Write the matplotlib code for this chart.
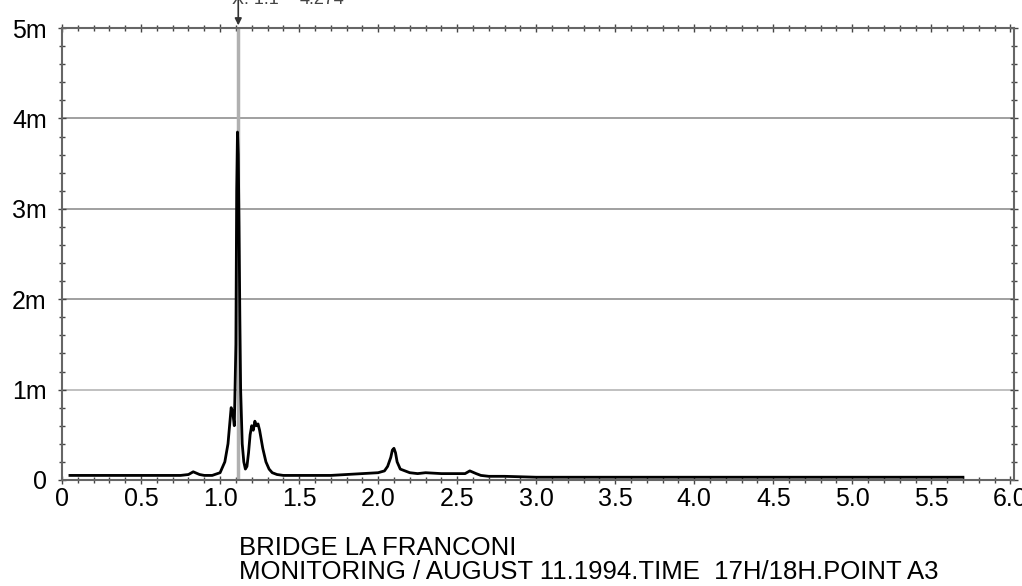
import numpy as np
import matplotlib.pyplot as plt
from matplotlib.ticker import MultipleLocator

plt.rcParams['font.family'] = ['Liberation Sans', 'DejaVu Sans']

# spectrum (amplitude in milli-units)
freq = [0.05, 0.2, 0.4, 0.6, 0.75, 0.8, 0.83, 0.87, 0.9, 0.95, 1.0, 1.03, 1.05,
        1.06, 1.07, 1.08, 1.09, 1.10, 1.105, 1.11, 1.115, 1.12, 1.125, 1.13,
        1.14, 1.15, 1.16, 1.17, 1.18, 1.19, 1.20, 1.21, 1.22, 1.23, 1.24, 1.25,
        1.26, 1.27, 1.29, 1.31, 1.33, 1.36, 1.4, 1.5, 1.6, 1.7, 1.8, 1.9, 2.0,
        2.04, 2.06, 2.08, 2.09, 2.10, 2.11, 2.12, 2.14, 2.17, 2.2, 2.25, 2.3,
        2.4, 2.5, 2.55, 2.58, 2.62, 2.65, 2.7, 2.8, 3.0, 3.5, 4.0, 4.5, 5.0,
        5.5, 5.7]
amp = [0.05, 0.05, 0.05, 0.05, 0.05, 0.06, 0.09, 0.06, 0.05, 0.05, 0.08, 0.2,
       0.4, 0.6, 0.8, 0.75, 0.6, 1.5, 3.2, 3.85, 3.6, 2.8, 1.8, 1.0, 0.4, 0.2,
       0.12, 0.15, 0.3, 0.5, 0.6, 0.55, 0.65, 0.6, 0.62, 0.55, 0.45, 0.35,
       0.2, 0.12, 0.08, 0.06, 0.05, 0.05, 0.05, 0.05, 0.06, 0.07, 0.08, 0.1,
       0.15, 0.25, 0.33, 0.35, 0.3, 0.2, 0.12, 0.1, 0.08, 0.07, 0.08, 0.07,
       0.07, 0.07, 0.1, 0.07, 0.05, 0.04, 0.04, 0.03, 0.03, 0.03, 0.03, 0.03,
       0.03, 0.03]

cursor_x = 1.115
y_ticks = [0, 1, 2, 3, 4, 5]
y_labels = ['0', '1m', '2m', '3m', '4m', '5m']
x_ticks = [0, 0.5, 1.0, 1.5, 2.0, 2.5, 3.0, 3.5, 4.0, 4.5, 5.0, 5.5, 6.0]

fig = plt.figure(figsize=(10.22, 5.86), dpi=100)
ax = fig.add_axes([0.0607, 0.181, 0.931, 0.771])

for yv, c in zip([1, 2, 3, 4], ['#bbbbbb', '#999999', '#999999', '#999999']):
    ax.axhline(yv, color=c, lw=1.3, zorder=1)

ax.axvline(cursor_x, color='#b0b0b0', lw=2.5, zorder=2)
ax.plot(freq, amp, color='black', lw=2, zorder=3)

ax.set_xlim(0, 6.02)
ax.set_ylim(0, 5)
ax.set_xticks(x_ticks)
ax.set_xticklabels(['0'] + ['%.1f' % v for v in x_ticks[1:]])
ax.set_yticks(y_ticks)
ax.set_yticklabels(y_labels)
ax.xaxis.set_minor_locator(MultipleLocator(0.1))
ax.yaxis.set_minor_locator(MultipleLocator(0.2))
ax.tick_params(which='both', direction='inout', top=True, right=True,
               labelsize=18, color='#444444')
ax.tick_params(which='major', length=6, width=1)
ax.tick_params(which='minor', length=4, width=1)
ax.tick_params(axis='y', pad=8)
ax.tick_params(axis='x', pad=2)
for s in ax.spines.values():
    s.set_color('#666666')
    s.set_linewidth(1.5)

# cursor marker above the plot
ax.annotate('', xy=(cursor_x, 5.0), xytext=(cursor_x, 5.35),
            arrowprops=dict(arrowstyle='-|>', color='#333333', lw=1.2),
            annotation_clip=False)
fig.text(0.227, 1.0, 'X: 1.1', fontsize=13, va='center', color='#444444')
fig.text(0.293, 1.0, '4.274', fontsize=13, va='center', color='#444444')

fig.text(0.234, 0.065, 'BRIDGE LA FRANCONI', fontsize=18.5, va='center')
fig.text(0.234, 0.024, 'MONITORING / AUGUST 11.1994.TIME  17H/18H.POINT A3',
         fontsize=18.5, va='center')

fig.savefig('out.png', dpi=100)
